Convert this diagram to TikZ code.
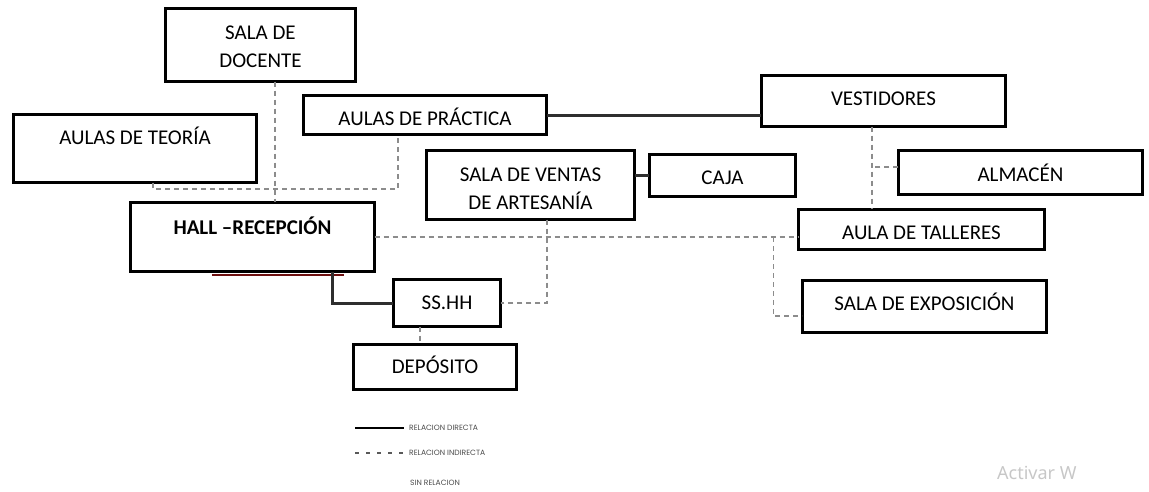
\documentclass[tikz,border=0pt]{standalone}
\usepackage{fontspec}
\setmainfont{Carlito}
\newfontfamily\legfont{Poppins}
\newfontfamily\winfont{Noto Sans}
\usetikzlibrary{calc}
\definecolor{darkred}{RGB}{110,15,15}
\begin{document}
\begin{tikzpicture}[x=1pt,y=-1pt,
 box/.style={draw=black, line width=2.6pt, inner sep=0pt, outer sep=0pt, fill=none},
 txt/.style={anchor=base, inner sep=0pt, font=\fontsize{21}{28}\selectfont},
 direct/.style={draw=black!82, line width=3pt},
 indirect/.style={draw=black!45, line width=1.6pt, dash pattern=on 5pt off 4pt},
 leg/.style={anchor=west, inner sep=0pt, text=black!70, font=\legfont\fontsize{7.6}{8}\selectfont}]
\useasboundingbox (0,0) rectangle (1149,491);
% stray dark red line under the hall
\draw[darkred, line width=1.8pt] (212,274.8) -- (344,274.8);
% boxes
\node[box, minimum width=190.4pt, minimum height=73.4pt] (doc) at (260.5,45) {};
\node[box, minimum width=243.4pt, minimum height=68.4pt] (teo) at (135,148.5) {};
\node[box, minimum width=243.4pt, minimum height=39.4pt] (pra) at (425,115) {};
\node[box, minimum width=208.4pt, minimum height=69.4pt] (ven) at (530.5,185) {};
\node[box, minimum width=244.4pt, minimum height=69.4pt] (hall) at (252.5,237) {};
\node[box, minimum width=146.4pt, minimum height=42.4pt] (caja) at (722.5,175.5) {};
\node[box, minimum width=244.4pt, minimum height=51.4pt] (vest) at (883.5,101) {};
\node[box, minimum width=244.4pt, minimum height=44.4pt] (alm) at (1020.5,172.5) {};
\node[box, minimum width=246.4pt, minimum height=40.4pt] (tal) at (921.5,229.5) {};
\node[box, minimum width=244.4pt, minimum height=52.4pt] (exp) at (924.5,306.5) {};
\node[box, minimum width=107.4pt, minimum height=47.4pt] (ss) at (447,303) {};
\node[box, minimum width=163.4pt, minimum height=45.4pt] (dep) at (435,367) {};
% texts
\node[txt] (docA) at (260.5,39.7) {SALA DE};
\node[txt] (docB) at (260.5,67.7) {DOCENTE};
\node[txt] (teoT) at (135,144.7) {AULAS DE TEORÍA};
\node[txt] (praT) at (425,125.7) {AULAS DE PRÁCTICA};
\node[txt] (venA) at (530.5,181.7) {SALA DE VENTAS};
\node[txt] (venB) at (530.5,209.7) {DE ARTESANÍA};
\node[txt, font=\bfseries\fontsize{21}{28}\selectfont] (hallT) at (252.5,234.7) {HALL –RECEPCIÓN};
\node[txt] (cajaT) at (722.5,184.7) {CAJA};
\node[txt] (vestT) at (883.5,105.7) {VESTIDORES};
\node[txt] (almT) at (1020.5,181.7) {ALMACÉN};
\node[txt] (talT) at (921.5,239.7) {AULA DE TALLERES};
\node[txt] (expT) at (924.5,310.7) {SALA DE EXPOSICIÓN};
\node[txt] (ssT) at (447,309.7) {SS.HH};
\node[txt] (depT) at (435,373.7) {DEPÓSITO};
% direct relations
\draw[direct] (pra.east) -- (vest.west |- pra.east);
\draw[direct] (caja.west -| ven.east) -- (caja.west);
\draw[direct] ($(hall.south)+(79.5,0)$) |- (ss.west);
% indirect relations
\coordinate (d1) at ($(doc.south)+(14.5,0)$);
\draw[indirect] (d1) -- (d1 |- hall.north);
\coordinate (t1) at ($(teo.south)+(18,0)$);
\coordinate (p1) at ($(pra.south)+(-27,0)$);
\draw[indirect] (t1) -- ++(0,6) -| (p1);
\draw[indirect] (hall.east) -- (hall.east -| tal.west);
\coordinate (h1) at ($(hall.east -| tal.west)+(-25,0)$);
\coordinate (e1) at ($(exp.west)+(0,9.5)$);
\draw[indirect] (h1) |- (e1);
\coordinate (v1) at ($(ven.south)+(16.5,0)$);
\draw[indirect] (v1) |- (ss.east);
\coordinate (w1) at ($(vest.south)+(-11.5,0)$);
\draw[indirect] (w1) -- (w1 |- tal.north);
\coordinate (a1) at ($(alm.west)+(0,-5.5)$);
\draw[indirect] (a1) -- (a1 -| w1);
\coordinate (s1) at ($(ss.south)+(-27,0)$);
\draw[indirect] (s1) -- (s1 |- dep.north);
% legend
\coordinate (la) at (355,428);
\coordinate (lb) at (404,428);
\draw[black, line width=2.8pt] (la) -- (lb);
\coordinate (lc) at (355,453);
\coordinate (ld) at (404,453);
\draw[black!65, line width=1.1pt, dash pattern=on 4pt off 7pt] (lc) -- (ld);
\node[leg] (leg1) at (409,428) {RELACION DIRECTA};
\node[leg] (leg2) at (409,453) {RELACION INDIRECTA};
\node[leg] (leg3) at (410,483) {SIN RELACION};
% watermark
\node[anchor=base west, inner sep=0pt, text=black!22, font=\winfont\fontsize{18}{20}\selectfont] (act) at (997,479.5) {Activar W};
\end{tikzpicture}
\end{document}
